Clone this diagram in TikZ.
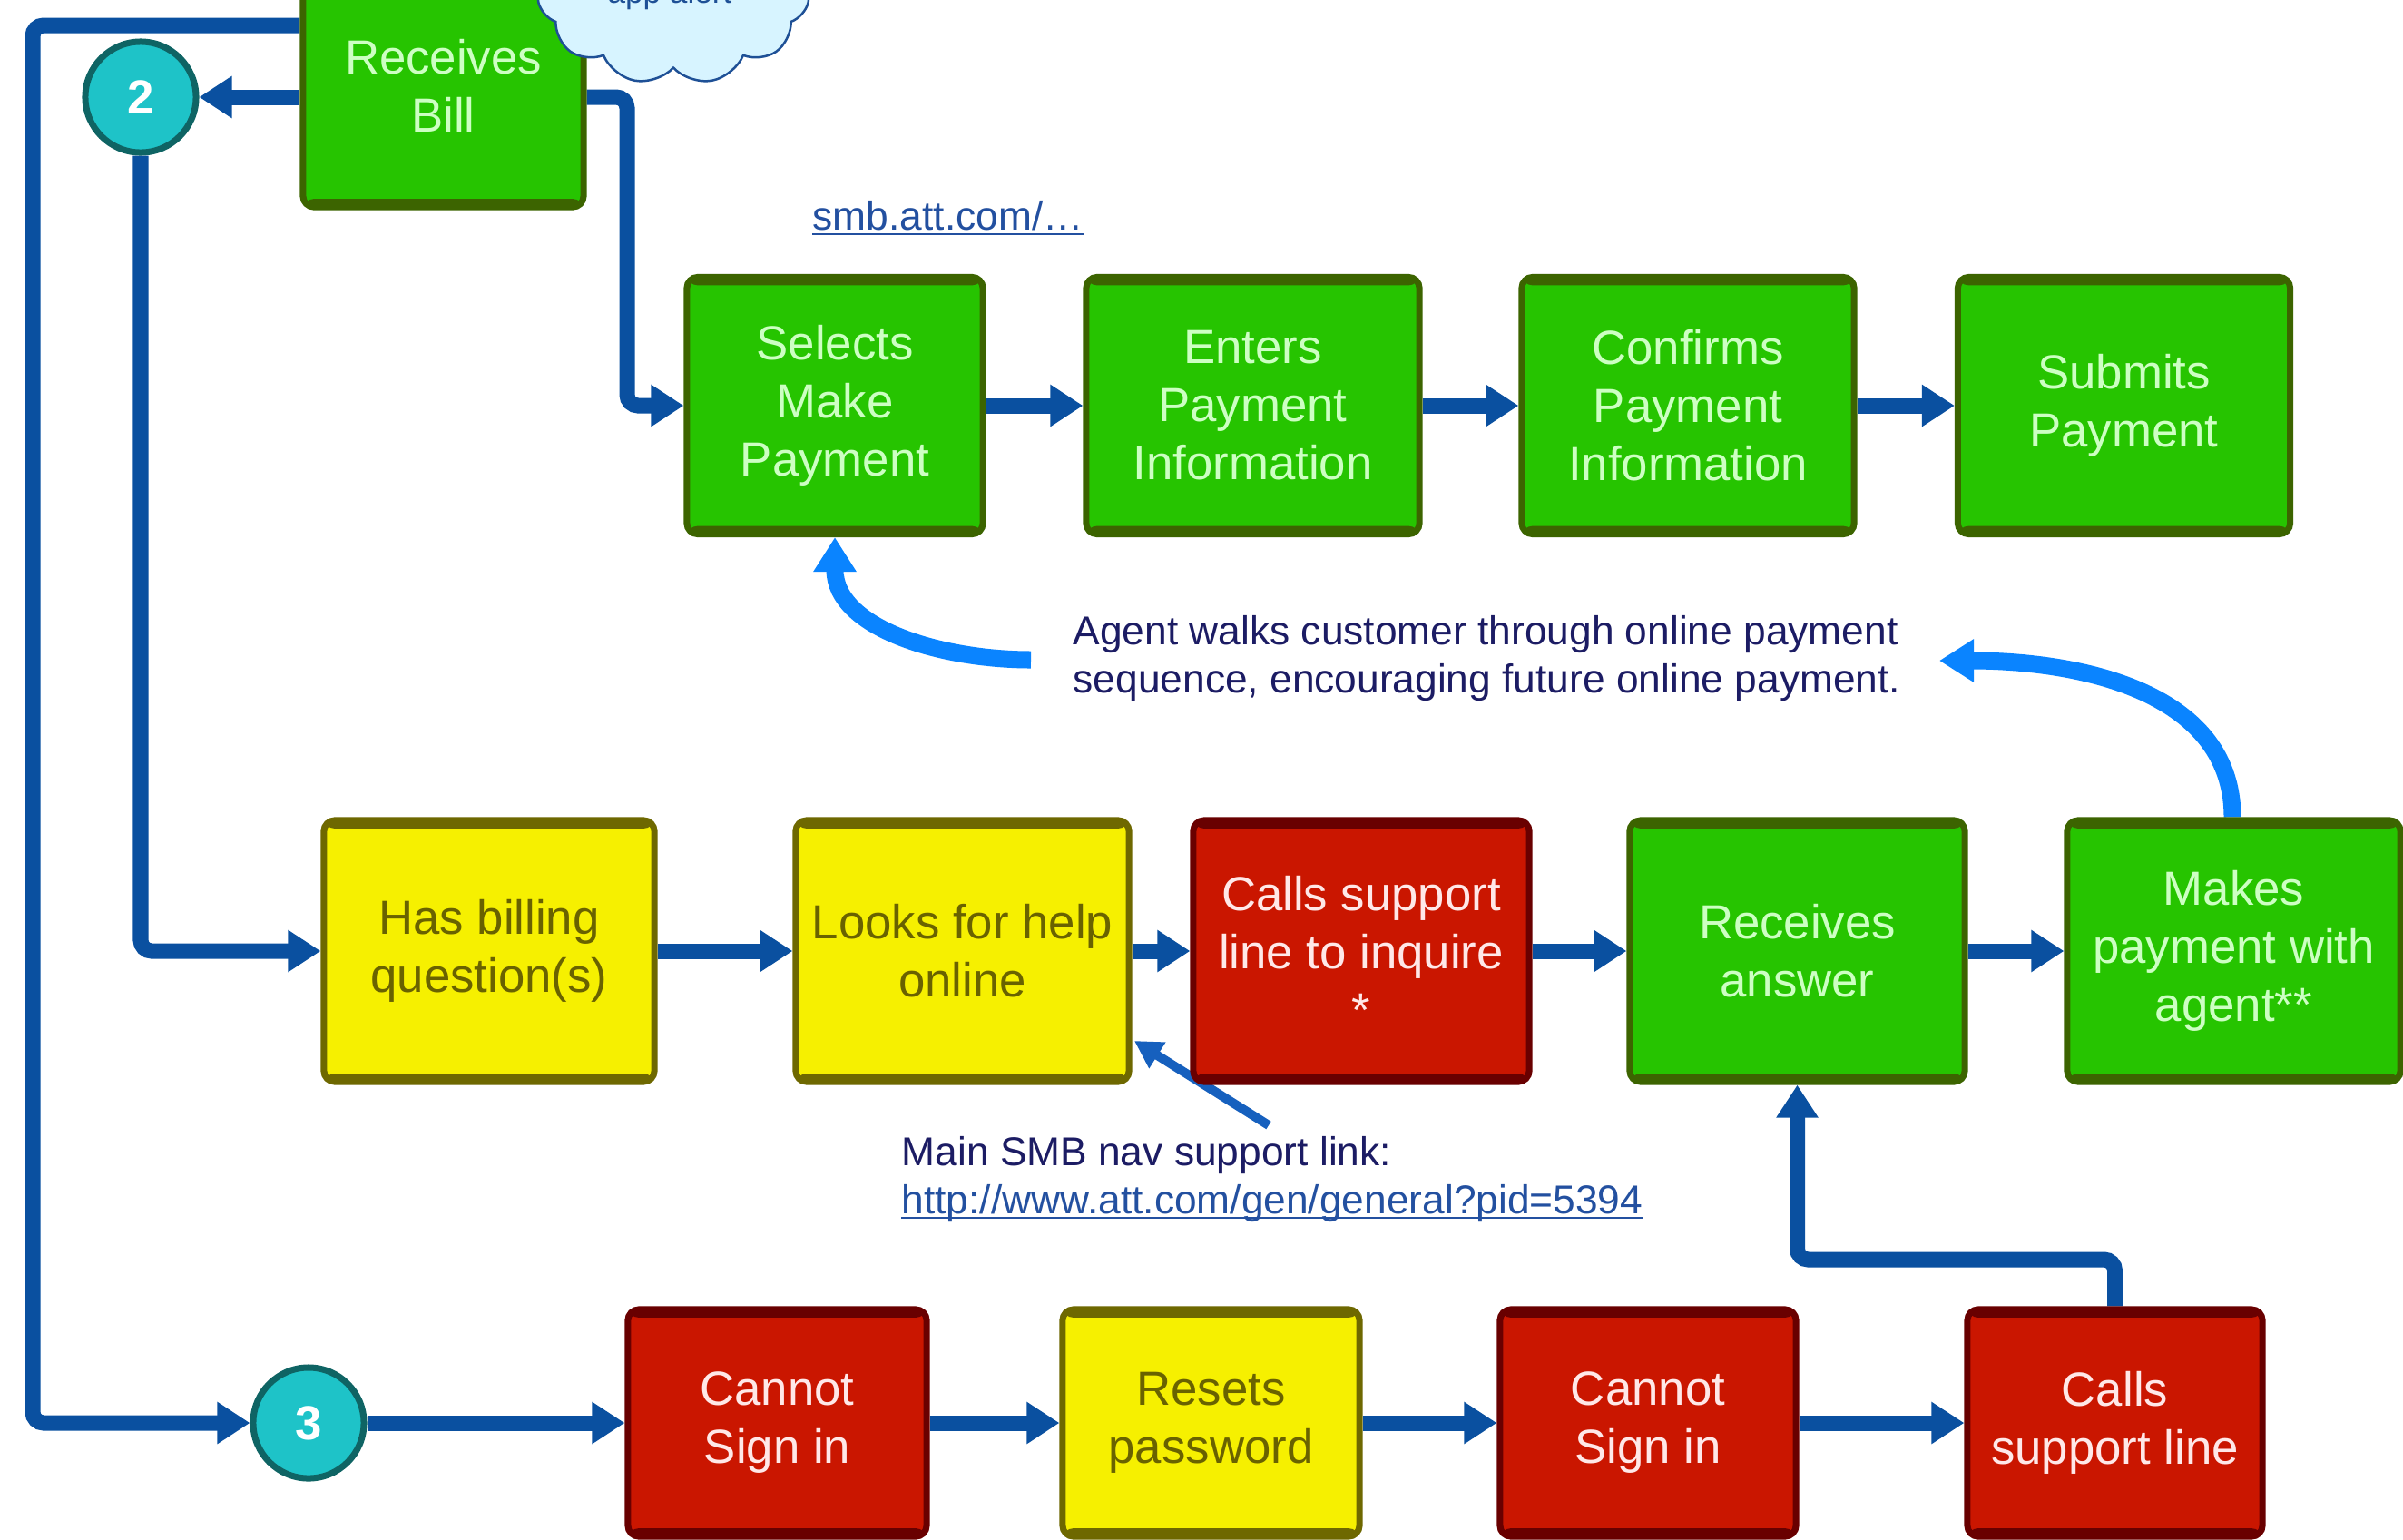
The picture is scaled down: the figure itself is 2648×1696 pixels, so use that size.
\documentclass[tikz,border=0pt]{standalone}
\usepackage{fontspec}
\setmainfont{Liberation Sans}
\usetikzlibrary{arrows.meta,shapes.symbols}
\definecolor{gfill}{RGB}{38,196,0}
\definecolor{gline}{RGB}{60,100,0}
\definecolor{gtext}{RGB}{205,255,195}
\definecolor{yfill}{RGB}{246,240,0}
\definecolor{yline}{RGB}{110,104,0}
\definecolor{ytext}{RGB}{105,98,0}
\definecolor{rfill}{RGB}{202,22,0}
\definecolor{rline}{RGB}{105,0,0}
\definecolor{rtext}{RGB}{255,232,232}
\definecolor{cfill}{RGB}{30,195,200}
\definecolor{cline}{RGB}{15,100,100}
\definecolor{dblue}{RGB}{10,80,160}
\definecolor{lblue}{RGB}{10,132,255}
\definecolor{mblue}{RGB}{22,96,190}
\definecolor{navy}{RGB}{28,28,100}
\definecolor{linkc}{RGB}{35,80,160}
\definecolor{cloudf}{RGB}{215,244,255}
\definecolor{cloudl}{RGB}{30,80,150}
\newcommand\boxfont{\fontsize{15pt}{18.2pt}\selectfont}
\newcommand\annfont{\fontsize{12.6pt}{15.2pt}\selectfont}
\newcommand\circfont{\fontsize{15pt}{18pt}\selectfont\bfseries}
\pgfdeclarelayer{background}
\pgfsetlayers{background,main}
\tikzset{
  box/.style={rectangle, rounded corners=0.12cm, line width=0.07cm, inner sep=0pt, align=center, font=\boxfont},
  bands/.style={path picture={
    \fill[#1] ([yshift=0.05cm]path picture bounding box.north west) rectangle ([yshift=-0.09cm]path picture bounding box.north east);
    \fill[#1] ([yshift=-0.05cm]path picture bounding box.south west) rectangle ([yshift=0.09cm]path picture bounding box.south east);}},
  gbox/.style={box, fill=gfill, draw=gline, text=gtext, bands=gline},
  ybox/.style={box, fill=yfill, draw=yline, text=ytext, bands=yline},
  rbox/.style={box, fill=rfill, draw=rline, text=rtext, bands=rline},
  rowa/.style={minimum height=2.83cm},
  rowb/.style={minimum height=2.88cm},
  rowc/.style={minimum height=2.5cm},
  circ/.style={circle, fill=cfill, draw=cline, line width=0.07cm, minimum size=1.22cm, inner sep=0pt, text=white, font=\circfont},
  dline/.style={draw=dblue, line width=0.17cm, rounded corners=0.12cm, -{Triangle[length=0.36cm,width=0.44cm]}},
  lbline/.style={draw=lblue, line width=0.19cm, -{Triangle[length=0.38cm,width=0.45cm]}},
  mbline/.style={draw=mblue, line width=0.1cm, -{Triangle[length=0.3cm,width=0.32cm]}},
  ann/.style={font=\annfont, text=navy, inner sep=0pt},
  lnk/.style={font=\annfont, text=linkc, inner sep=0pt}
}
\begin{document}
\begin{tikzpicture}[x=0.01cm,y=-0.01cm]
\useasboundingbox (0,0) rectangle (2648,1696);
\clip (0,0) rectangle (2648,1696);

% top
\node[gbox, minimum width=3.09cm, minimum height=2.68cm] (rb) at (488.5,94) {Receives\\Bill};
\node[cloud, cloud puffs=11, cloud puff arc=115, aspect=1.5, fill=cloudf, draw=cloudl, line width=0.025cm, minimum width=3.0cm, minimum height=2.1cm] (cl) at (742,-12) {};
\node[font=\fontsize{10pt}{12pt}\selectfont, text=cloudl, anchor=base, inner sep=0pt] (app) at (738,3) {app alert};

\node[circ] (c2) at (155,107) {2};
\node[circ] (c3) at (340,1568) {3};

% row 1
\node[gbox, rowa, minimum width=3.26cm] (sel) at (920,447) {Selects\\Make\\Payment};
\node[gbox, rowa, minimum width=3.67cm] (ent) at (1380.5,447) {Enters\\Payment\\Information};
\node[gbox, rowa, minimum width=3.66cm] (con) at (1860,447) {Confirms\\Payment\\Information};
\node[gbox, rowa, minimum width=3.66cm] (sub) at (2340.5,447) {Submits\\Payment};

% row 2
\node[ybox, rowb, minimum width=3.64cm] (has) at (539,1048) {Has billing\\question(s)};
\node[ybox, rowb, minimum width=3.67cm] (look) at (1060.5,1048) {Looks for help\\online};
\node[rbox, rowb, minimum width=3.70cm] (cs1) at (1500,1048) {Calls support\\line to inquire\\*};
\node[gbox, rowb, minimum width=3.69cm] (rans) at (1980.5,1048) {Receives\\answer};
\node[gbox, rowb, minimum width=3.67cm] (mk) at (2461.5,1048) {Makes\\payment with\\agent**};

% row 3
\node[rbox, rowc, minimum width=3.29cm] (cn1) at (856.5,1568) {Cannot\\Sign in};
\node[ybox, rowc, minimum width=3.27cm] (rs) at (1334.5,1568) {Resets\\password};
\node[rbox, rowc, minimum width=3.26cm] (cn2) at (1816,1568) {Cannot\\Sign in};
\node[rbox, rowc, minimum width=3.25cm] (cs2) at (2330.5,1568) {Calls\\support line};

% annotations
\node[lnk, anchor=base west] (smb) at (895,253) {smb.att.com/…};
\node[ann, anchor=base west] (ag1) at (1182,710) {Agent walks customer through online payment};
\node[ann, anchor=base west] (ag2) at (1182,763) {sequence, encouraging future online payment.};
\node[ann, anchor=base west] (ms1) at (993,1284) {Main SMB nav support link:};
\node[lnk, anchor=base west] (url) at (993,1337) {http://www.att.com/gen/general?pid=5394};
\draw[linkc, line width=0.02cm] ([yshift=-0.05cm]smb.base west) -- ([yshift=-0.05cm]smb.base east);
\draw[linkc, line width=0.02cm] ([yshift=-0.05cm]url.base west) -- ([yshift=-0.05cm]url.base east);

\coordinate (t1) at (0,28);
\coordinate (lx) at (36,0);
\coordinate (j1) at (691,447);
\coordinate (j2) at (0,1388);
\coordinate (a1) at (2137,728);
\coordinate (a2) at (1136,727);
\coordinate (m1) at (1398,1240);
\coordinate (m2) at (1250,1147);

\begin{pgfonlayer}{background}
\fill[white] (0,0) rectangle (2648,1696);
\draw[dline] (rb.west |- t1) -| (lx |- c3) -- (c3);
\draw[dline] (rb.west |- c2) -- (c2);
\draw[dline] (c2) |- (has);
\draw[dline] (rb.east |- c2) -| (j1) -- (sel);
\draw[dline] (sel) -- (ent);
\draw[dline] (ent) -- (con);
\draw[dline] (con) -- (sub);
\draw[dline] (has) -- (look);
\draw[dline] (look) -- (cs1);
\draw[dline] (cs1) -- (rans);
\draw[dline] (rans) -- (mk);
\draw[dline] (c3) -- (cn1);
\draw[dline] (cn1) -- (rs);
\draw[dline] (rs) -- (cn2);
\draw[dline] (cn2) -- (cs2);
\draw[dline] (cs2.north) -- (cs2.north |- j2) -- (rans.south |- j2) -- (rans.south);
\draw[lbline] (mk.north -| 2460,0) to[out=90,in=0] (a1);
\draw[lbline] (a2) to[out=180,in=270] (sel.south);
\draw[mbline] (m1) -- (m2);
\end{pgfonlayer}
\end{tikzpicture}
\end{document}
